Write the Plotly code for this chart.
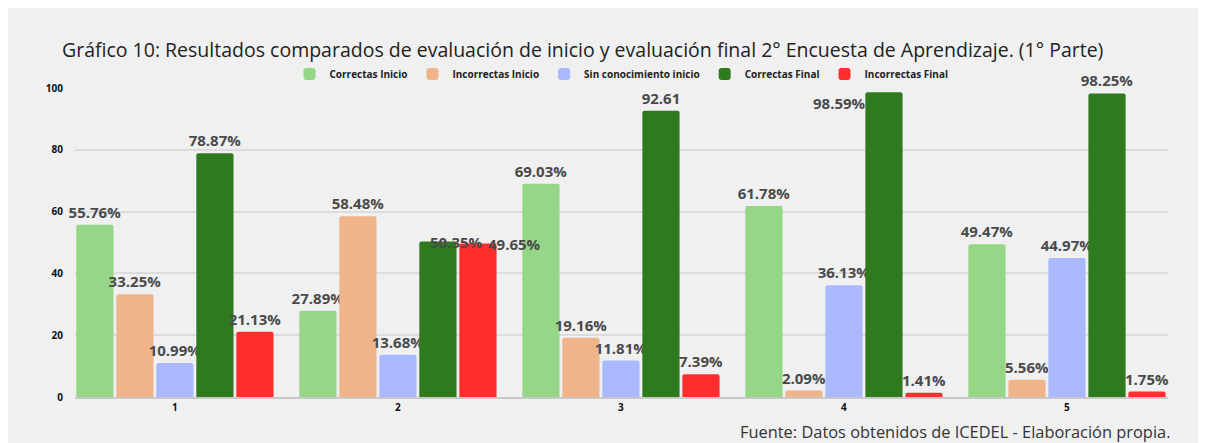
import plotly.graph_objects as go

categorias = ['1', '2', '3', '4', '5']
correctas_inicio = [55.76, 27.89, 69.03, 61.78, 49.47]
incorrectas_inicio = [33.25, 58.48, 19.16, 2.09, 5.56]
sin_conocimiento = [10.99, 13.68, 11.81, 36.13, 44.97]
correctas_final = [78.87, 50.35, 92.61, 98.59, 98.25]
incorrectas_final = [21.13, 49.65, 7.39, 1.41, 1.75]

series = [
    ('Correctas Inicio', correctas_inicio, '#95d687'),
    ('Incorrectas Inicio', incorrectas_inicio, '#f0b48b'),
    ('Sin conocimiento inicio', sin_conocimiento, '#a9b8ff'),
    ('Correctas Final', correctas_final, '#2f7a1f'),
    ('Incorrectas Final', incorrectas_final, '#ff2e2e'),
]

# labels the source chart nudges sideways to avoid collisions:
# (trace name, category) -> (xshift, yshift, xanchor)
desplazadas = {
    ('Correctas Final', '2'): (59, -1, 'center'),
    ('Incorrectas Final', '2'): (117, 0, 'center'),
    ('Correctas Final', '4'): (24, -11, 'right'),
}

label_font = dict(family='Open Sans', size=15, color='#4a4a4a', weight='bold')

fig = go.Figure()
for nombre, valores, color in series:
    # the source chart drops the % sign on 92.61
    etiquetas = [f'{v:.2f}' if v == 92.61 else f'{v:.2f}%' for v in valores]
    textos = []
    for i, (cat, v, et) in enumerate(zip(categorias, valores, etiquetas)):
        if (nombre, cat) in desplazadas:
            dx, dy, anchor = desplazadas[(nombre, cat)]
            # numeric x on a category axis = category index
            fig.add_annotation(x=i, y=v, text=et, showarrow=False,
                               xshift=dx, yshift=dy, xanchor=anchor, yanchor='middle',
                               font=label_font)
            textos.append('')
        else:
            textos.append(et)
    fig.add_trace(go.Bar(
        x=categorias, y=valores, name=nombre,
        marker=dict(color=color, line=dict(width=0), cornerradius=2),
        text=textos, textposition='outside', cliponaxis=False, constraintext='none',
        textfont=label_font,
    ))

# page body adds an 8px margin, so the figure is 8px smaller than the window
fig.update_layout(
    width=1198, height=435,
    margin=dict(l=67, r=38, t=80, b=46),
    paper_bgcolor='#f0f0f0', plot_bgcolor='#f0f0f0',
    barmode='group', bargap=0.103, bargroupgap=0.07,
    title=dict(text='Gráfico 10: Resultados comparados de evaluación de inicio y evaluación final 2° Encuesta de Aprendizaje. (1° Parte)',
               xref='container', yref='container', x=54 / 1198, xanchor='left',
               y=1 - 42 / 435, yanchor='middle',
               font=dict(family='Open Sans', size=19.5, color='#222222')),
    legend=dict(orientation='h', x=0.5, xanchor='center', y=1.045, yanchor='middle',
                font=dict(family='Open Sans', size=10, color='#222222', weight='bold'),
                bgcolor='rgba(0,0,0,0)', itemwidth=30, tracegroupgap=0,
                traceorder='normal'),
    xaxis=dict(type='category', range=[-0.448, 4.453], showgrid=False, showline=True,
               linecolor='#c8c8c8', linewidth=1.5, ticks='',
               tickfont=dict(family='Open Sans', size=10, color='#111111', weight='bold')),
    yaxis=dict(range=[0, 100], dtick=20, showgrid=True, gridcolor='#dcdcdc', gridwidth=1.5,
               zeroline=False, ticks='', ticklabelstandoff=11,
               tickfont=dict(family='Open Sans', size=10, color='#111111', weight='bold')),
)

fig.add_annotation(text='Fuente: Datos obtenidos de ICEDEL - Elaboración propia.',
                   xref='paper', yref='paper', x=1.004, xanchor='right',
                   y=(397 - 431) / 309, yanchor='middle', showarrow=False,
                   font=dict(family='Open Sans', size=16.4, color='#333333'))

fig.write_html('out.html')
